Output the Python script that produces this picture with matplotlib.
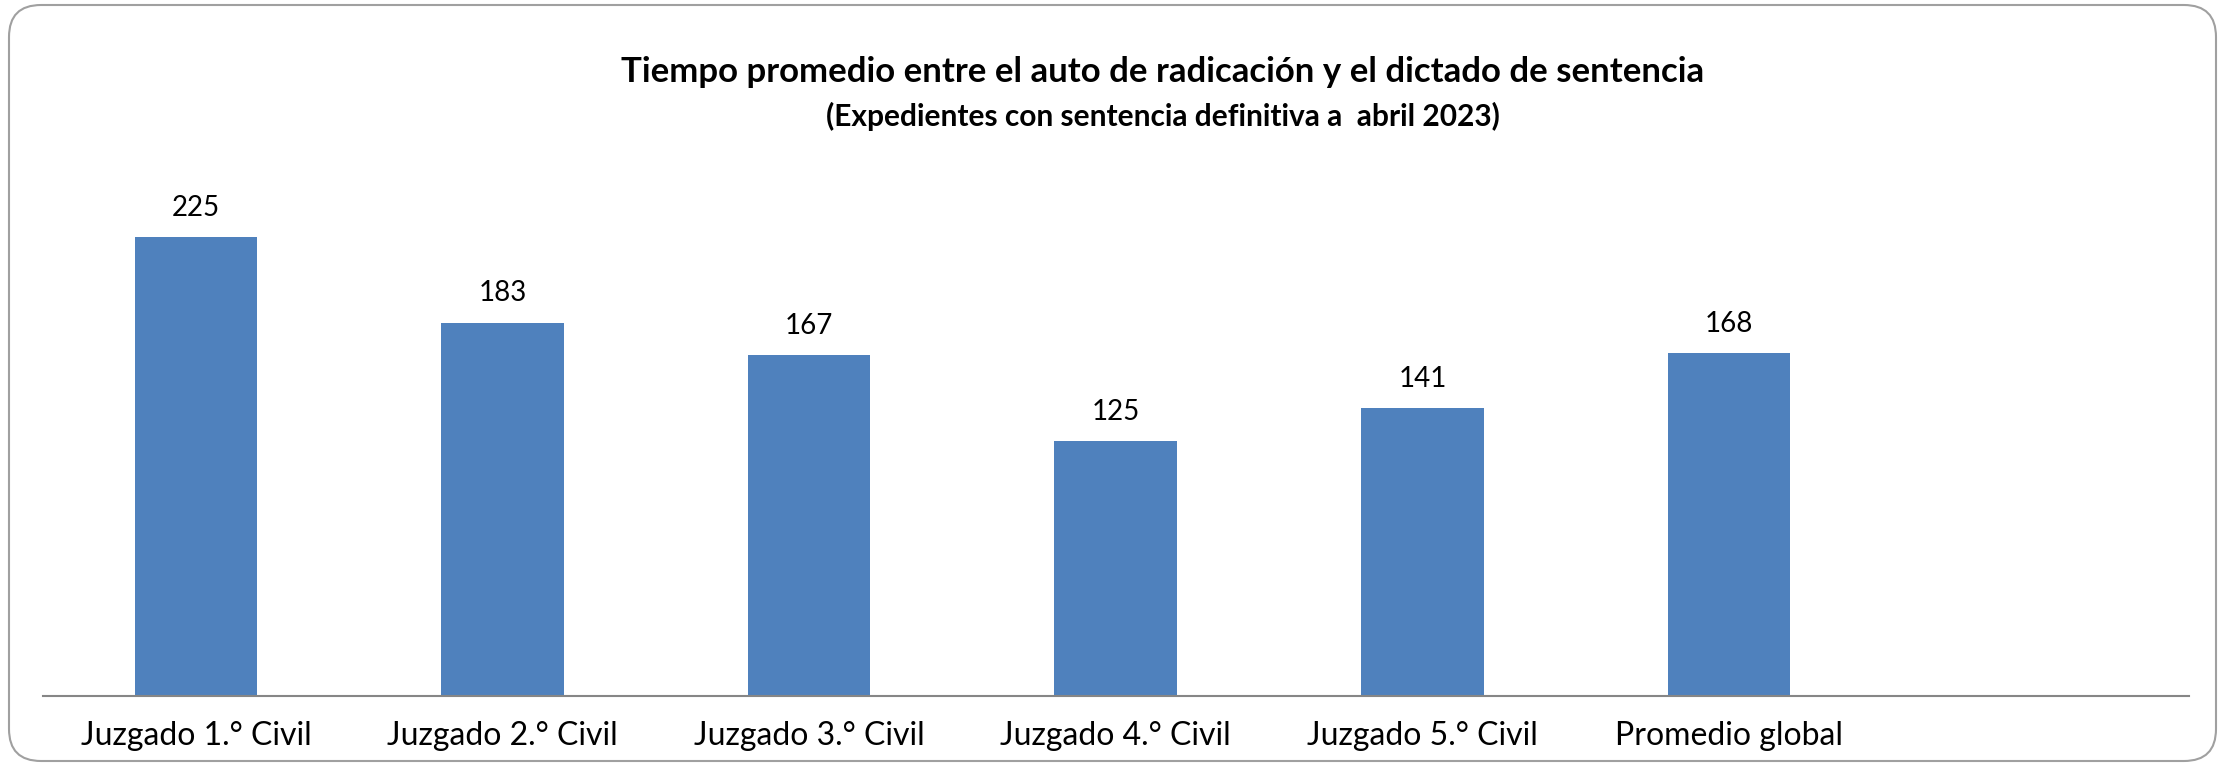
import matplotlib
matplotlib.use("Agg")
import matplotlib.pyplot as plt
from matplotlib.patches import FancyBboxPatch
from matplotlib.transforms import IdentityTransform

categories = ["Juzgado 1.° Civil", "Juzgado 2.° Civil", "Juzgado 3.° Civil",
              "Juzgado 4.° Civil", "Juzgado 5.° Civil", "Promedio global", ""]
values = [225, 183, 167, 125, 141, 168, None]

title = "Tiempo promedio entre el auto de radicación y el dictado de sentencia"
subtitle = "(Expedientes con sentencia definitiva a  abril 2023)"

plt.rcParams['font.family'] = ['Lato', 'DejaVu Sans']

W, H = 2226, 766
fig = plt.figure(figsize=(W / 100, H / 100), dpi=100)

ax = fig.add_axes([42.6 / W, (H - 695.6) / H, (2189 - 42.6) / W, 509.5 / H])
x = list(range(len(categories)))
bar_vals = [v if v is not None else 0 for v in values]
bars = ax.bar(x, bar_vals, width=0.40, color="#4F81BD", zorder=2)
for xi, v in zip(x, values):
    if v is not None:
        ax.text(xi, v + 8, f"{v}", ha="center", va="bottom", fontsize=20, color="black")

ax.set_xlim(-0.5, len(categories) - 0.5)
ax.set_ylim(0, 250)
ax.set_xticks(x)
ax.set_xticklabels(categories, fontsize=23)
ax.tick_params(axis="x", length=0, pad=18)
ax.set_yticks([])
for s in ["top", "right", "left"]:
    ax.spines[s].set_visible(False)
ax.spines["bottom"].set_color("#868686")
ax.spines["bottom"].set_linewidth(1.5)

fig.text(1163 / W, 1 - 72 / H, title, ha="center", va="center", fontsize=25, fontweight="bold")
fig.text(1163 / W, 1 - 116 / H, subtitle, ha="center", va="center", fontsize=21.5, fontweight="bold")

border = FancyBboxPatch((9, 5), 2207, 756, boxstyle="round,pad=0,rounding_size=32",
                        transform=IdentityTransform(), facecolor="none",
                        edgecolor="#A0A0A0", linewidth=1.5)
fig.patches.append(border)

fig.savefig("out.png", dpi=100)
